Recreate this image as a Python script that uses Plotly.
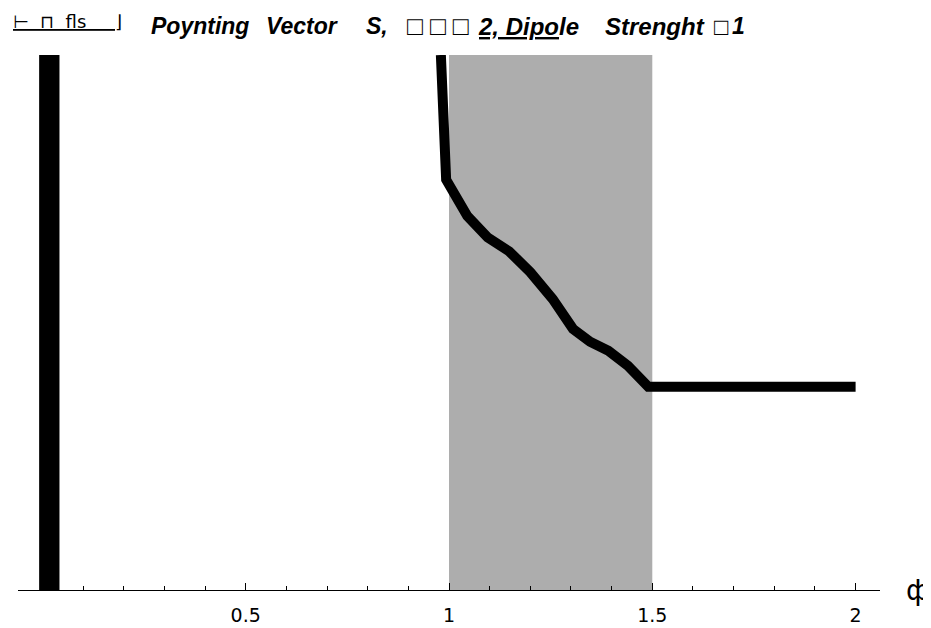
import plotly.graph_objects as go

# ---- data ----
band_names = ["dipole", "slab"]
band_center = [0.017, 1.25]
band_width = [0.05, 0.5]
band_height = [1.0, 1.0]
band_colors = ["#000000", "#adadad"]

line_x = [0.98, 0.993, 1.045, 1.095, 1.148, 1.2, 1.255, 1.305, 1.347, 1.392, 1.44, 1.49, 2.0]
line_y = [1.0, 0.767, 0.699, 0.659, 0.633, 0.594, 0.544, 0.488, 0.464, 0.447, 0.419, 0.38, 0.38]

tick_vals = [0.5, 1, 1.5, 2]
tick_text = ["0.5", "1", "1.5", "2"]

# title pieces (text, left edge in px, font size)
title_parts = ["Poynting", "Vector", "S,", "\u25a1 \u25a1 \u25a1", "<u>2, Dipo</u>le", "Strenght", "\u25a1", "1"]
title_left = [141, 256, 356, 397, 468, 595, 704, 722]
title_size = [23, 23, 23, 26, 24, 24, 24, 23]

W, H = 931, 628
L, R, T, B = 10, 59, 47, 44
PW, PH = W - L - R, H - T - B

fig = go.Figure()
fig.add_trace(go.Bar(
    x=band_center, y=band_height, width=band_width, base=0,
    marker=dict(color=band_colors, line=dict(width=0)),
    hoverinfo="skip", showlegend=False,
))
fig.add_trace(go.Scatter(
    x=line_x, y=line_y, mode="lines",
    line=dict(color="black", width=10),
    showlegend=False,
))

annotations = []
for txt, lx, sz in zip(title_parts, title_left, title_size):
    annotations.append(dict(
        text=txt, xref="paper", yref="paper",
        x=(lx - L) / PW, y=1 + (T - 18) / PH, xanchor="left", yanchor="middle",
        showarrow=False,
        font=dict(family="Liberation Sans, Arial", size=sz, color="black",
                  weight="bold", style="italic")))
annotations += [
    dict(text="<u>\u22a2  \u2293  fls     \u230b</u>", xref="paper", yref="paper",
         x=(3 - L) / PW, y=1 + (T - 13) / PH, xanchor="left", yanchor="middle",
         showarrow=False, font=dict(family="DejaVu Sans", size=18, color="black")),
    dict(text="\u0444", xref="paper", yref="paper",
         x=(910 - L) / PW, y=0, xanchor="center", yanchor="middle",
         showarrow=False, font=dict(family="DejaVu Sans", size=28, color="black")),
]

fig.update_layout(
    width=W, height=H,
    margin=dict(l=L, r=R, t=T, b=B),
    paper_bgcolor="white", plot_bgcolor="white",
    barmode="overlay",
    xaxis=dict(range=[-0.06, 2.06], showgrid=False, zeroline=False,
               showline=True, linecolor="black", linewidth=1,
               tickmode="array", tickvals=tick_vals, ticktext=tick_text,
               ticks="inside", ticklen=7, tickcolor="black",
               minor=dict(tickmode="linear", tick0=0, dtick=0.1, ticks="inside",
                          ticklen=4, tickcolor="black"),
               tickfont=dict(family="DejaVu Sans", size=19, color="black"),
               ticklabelstandoff=8),
    yaxis=dict(range=[0, 1], visible=False, showgrid=False, zeroline=False),
    annotations=annotations,
)

fig.write_html("out.html")
